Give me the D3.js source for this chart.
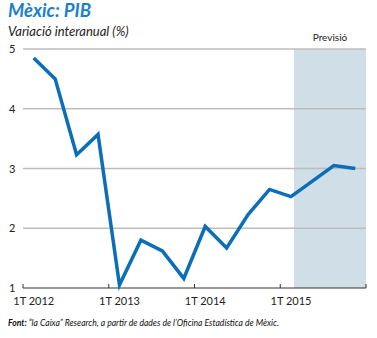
<!DOCTYPE html>
<html><head><meta charset="utf-8">
<script src="https://cdn.jsdelivr.net/npm/d3@7"></script>
<style>body{margin:0;background:#fff}svg{display:block}</style>
</head><body>
<svg id="c" width="377" height="338"></svg>
<script>
const categories = ["1T 2012","2T 2012","3T 2012","4T 2012","1T 2013","2T 2013","3T 2013","4T 2013","1T 2014","2T 2014","3T 2014","4T 2014","1T 2015","2T 2015","3T 2015","4T 2015"];
const pibValues = [4.85,4.5,3.23,3.57,1.05,1.8,1.62,1.16,2.03,1.67,2.23,2.65,2.53,2.79,3.05,3.0];
const yTicks = [1,2,3,4,5];
const xTickLabels = ["1T 2012","1T 2013","1T 2014","1T 2015"];
const forecastStart = "1T 2015";
const title = "Mèxic: PIB";
const subtitle = "Variació interanual (%)";
const forecastLabel = "Previsió";

const svg = d3.select("#c");
const font = "Lato, 'Open Sans', sans-serif";
const x = d3.scaleBand().domain(categories).range([23, 366]).padding(0);
const y = d3.scaleLinear().domain([1, 5]).range([288, 49]);

// title
svg.append("text").attr("x", 8).attr("y", 17).attr("font-family", font)
  .attr("font-size", 18.5).attr("font-weight", "bold").attr("font-style", "italic")
  .attr("fill", "#1b80cc").text(title);
svg.append("text").attr("x", 8).attr("y", 36).attr("font-family", font)
  .attr("font-size", 13).attr("font-style", "italic").attr("fill", "#222").text(subtitle);

// forecast shade
const fx0 = x(forecastStart) + x.bandwidth() * 0.64;
svg.append("rect").attr("x", fx0).attr("y", y(5)).attr("width", x.range()[1] - fx0)
  .attr("height", y(1) - y(5)).attr("fill", "#d0dfe7");
svg.append("text").attr("x", (fx0 + x.range()[1]) / 2).attr("y", 41).attr("text-anchor", "middle")
  .attr("font-family", font).attr("font-size", 10).attr("fill", "#222").text(forecastLabel);

// gridlines
svg.append("g").selectAll("line").data(yTicks.filter(d => d > 1)).join("line")
  .attr("x1", 23).attr("x2", 366).attr("y1", d => y(d)).attr("y2", d => y(d))
  .attr("stroke", "#bdbdbd").attr("stroke-width", 1.5);

// y labels
svg.append("g").selectAll("text").data(yTicks).join("text")
  .attr("x", 9).attr("y", d => y(d) + 4).attr("font-family", font).attr("font-size", 11)
  .attr("fill", "#222").text(d => d);

// x axis
const ax = svg.append("g");
ax.append("line").attr("x1", 23).attr("x2", 366).attr("y1", y(1)).attr("y2", y(1))
  .attr("stroke", "#333").attr("stroke-width", 1.2);
const tickPos = xTickLabels.map(c => x(c)).concat([x.range()[1]]);
ax.selectAll("line.t").data(tickPos).join("line").attr("class", "t")
  .attr("x1", d => d).attr("x2", d => d).attr("y1", y(1)).attr("y2", y(1) - 4)
  .attr("stroke", "#333").attr("stroke-width", 1);
ax.selectAll("text").data(xTickLabels).join("text")
  .attr("x", d => x(d) + x.bandwidth() / 2).attr("y", 305).attr("text-anchor", "middle")
  .attr("font-family", font).attr("font-size", 11).attr("fill", "#222").text(d => d);

// line
const line = d3.line().x((d, i) => x(categories[i]) + x.bandwidth() / 2).y(d => y(d));
svg.append("path").datum(pibValues).attr("d", line).attr("fill", "none")
  .attr("stroke", "#0a6fb8").attr("stroke-width", 3.5).attr("stroke-linejoin", "miter");

// source
const src = svg.append("text").attr("x", 8).attr("y", 326).attr("font-family", font)
  .attr("font-size", 8.6).attr("font-style", "italic").attr("fill", "#111");
src.append("tspan").attr("font-weight", "bold").text("Font:");
src.append("tspan").text(" “la Caixa”  Research, a partir de dades de l’Oficina Estadística de Mèxic.");
</script>
</body></html>
